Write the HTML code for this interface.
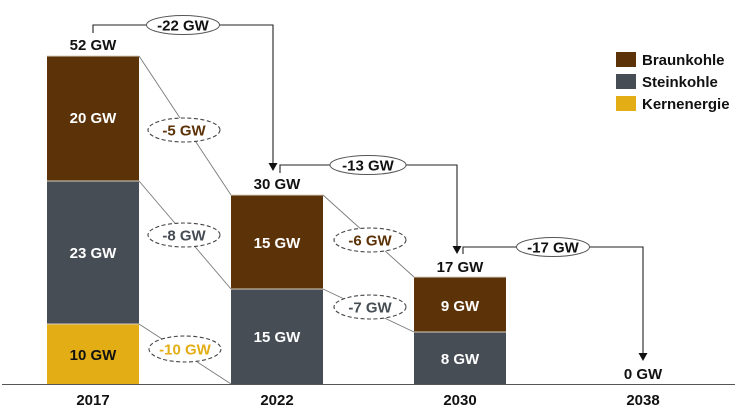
<!DOCTYPE html>
<html><head><meta charset="utf-8"><style>
html,body{margin:0;padding:0;background:#fff;}
svg{display:block;}
text{font-family:"Liberation Sans",Arial,sans-serif;font-weight:bold;}
</style></head><body>
<svg width="738" height="412" viewBox="0 0 738 412" xmlns="http://www.w3.org/2000/svg">
<!-- connector lines -->
<g stroke="#7a7a7a" stroke-width="0.9" fill="none">
<line x1="139" y1="56" x2="231" y2="195"/>
<line x1="139" y1="181" x2="231" y2="289"/>
<line x1="139" y1="324" x2="231" y2="384"/>
<line x1="323" y1="195" x2="414" y2="277"/>
<line x1="323" y1="289" x2="414" y2="332"/>
</g>
<!-- bars -->
<rect x="47" y="56" width="92" height="125" fill="#5c3208"/>
<rect x="47" y="181" width="92" height="143" fill="#464d55"/>
<rect x="47" y="324" width="92" height="60" fill="#e3ad16"/>
<rect x="231" y="195" width="92" height="94" fill="#5c3208"/>
<rect x="231" y="289" width="92" height="95" fill="#464d55"/>
<rect x="414" y="277" width="92" height="55" fill="#5c3208"/>
<rect x="414" y="332" width="92" height="52" fill="#464d55"/>
<g stroke="#d8d0c0" stroke-width="1">
<line x1="47" y1="56" x2="139" y2="56"/>
<line x1="47" y1="181" x2="139" y2="181"/>
<line x1="47" y1="324" x2="139" y2="324"/>
<line x1="231" y1="195" x2="323" y2="195"/>
<line x1="231" y1="289" x2="323" y2="289"/>
<line x1="414" y1="277" x2="506" y2="277"/>
<line x1="414" y1="332" x2="506" y2="332"/>
</g>
<!-- axis -->
<line x1="2" y1="384.5" x2="735" y2="384.5" stroke="#555" stroke-width="1"/>
<!-- bracket arrows -->
<g stroke="#222" stroke-width="1.1" fill="none">
<polyline points="93,33 93,25 273,25 273,164"/>
<polyline points="280,173 280,165 457,165 457,247"/>
<polyline points="463,254 463,247 643,247 643,354"/>
</g>
<g fill="#111">
<polygon points="268.5,163 277.5,163 273,171"/>
<polygon points="452.5,246 461.5,246 457,254"/>
<polygon points="638.5,353 647.5,353 643,361"/>
</g>
<!-- solid ellipses -->
<g fill="#fff" stroke="#555" stroke-width="1">
<ellipse cx="183" cy="25" rx="36.5" ry="9.5"/>
<ellipse cx="368" cy="165" rx="38" ry="9.5"/>
<ellipse cx="553" cy="247" rx="36.5" ry="9.5"/>
</g>
<!-- dashed ellipses -->
<g fill="#fff" stroke="#444" stroke-width="1.1" stroke-dasharray="4,2.5">
<ellipse cx="184" cy="130" rx="36" ry="12"/>
<ellipse cx="184" cy="235" rx="36" ry="12"/>
<ellipse cx="185" cy="349" rx="36" ry="13"/>
<ellipse cx="370" cy="240" rx="36" ry="12"/>
<ellipse cx="370" cy="307" rx="36" ry="12"/>
</g>
<g font-size="15" text-anchor="middle">
<text x="183" y="30.5" fill="#111">-22 GW</text>
<text x="368" y="170.5" fill="#111">-13 GW</text>
<text x="553" y="252.5" fill="#111">-17 GW</text>
<text x="184" y="135.5" fill="#5c3208">-5 GW</text>
<text x="184" y="240.5" fill="#464d55">-8 GW</text>
<text x="185" y="354.5" fill="#e3ad16">-10 GW</text>
<text x="370" y="245.5" fill="#5c3208">-6 GW</text>
<text x="370" y="312.5" fill="#464d55">-7 GW</text>
<!-- totals -->
<text x="93" y="50" fill="#111">52 GW</text>
<text x="277" y="189" fill="#111">30 GW</text>
<text x="460" y="272" fill="#111">17 GW</text>
<text x="643" y="379" fill="#111">0 GW</text>
<!-- bar labels -->
<text x="93" y="123" fill="#fff">20 GW</text>
<text x="93" y="258" fill="#fff">23 GW</text>
<text x="93" y="360" fill="#111">10 GW</text>
<text x="277" y="248" fill="#fff">15 GW</text>
<text x="277" y="342" fill="#fff">15 GW</text>
<text x="460" y="311" fill="#fff">9 GW</text>
<text x="460" y="364" fill="#fff">8 GW</text>
<!-- years -->
<text x="93" y="405" fill="#111">2017</text>
<text x="277" y="405" fill="#111">2022</text>
<text x="460" y="405" fill="#111">2030</text>
<text x="643" y="405" fill="#111">2038</text>
</g>
<!-- legend -->
<rect x="616" y="52" width="20" height="15" fill="#5c3208"/>
<rect x="616" y="74" width="20" height="15" fill="#464d55"/>
<rect x="616" y="96" width="20" height="15" fill="#e3ad16"/>
<g font-size="15" fill="#111">
<text x="642" y="65">Braunkohle</text>
<text x="642" y="87">Steinkohle</text>
<text x="642" y="109">Kernenergie</text>
</g>
</svg>
</body></html>
